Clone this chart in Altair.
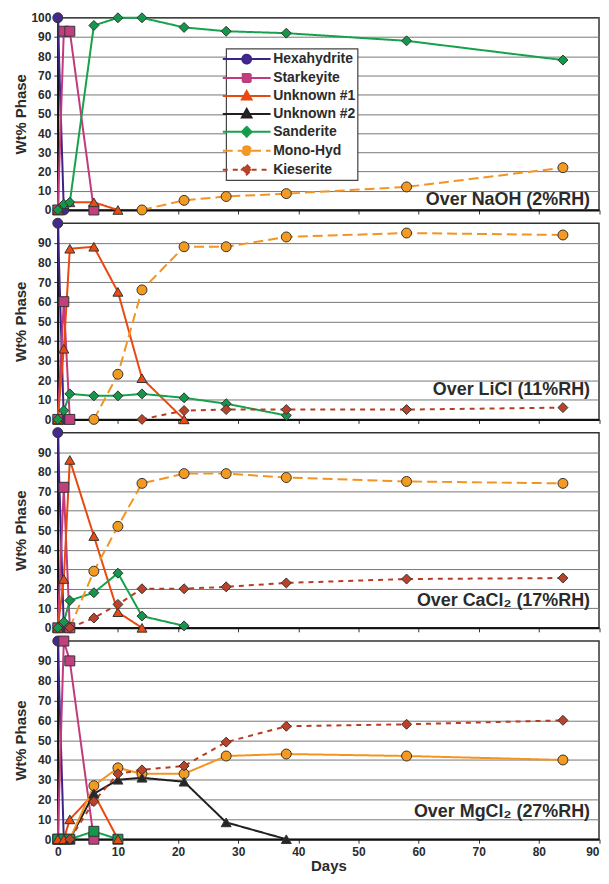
import altair as alt
import pandas as pd

DAYS = [0, 1, 2, 6, 10, 14, 21, 28, 38, 58, 84]
SERIES = ["Hexahydrite", "Starkeyite", "Unknown #1", "Unknown #2", "Sanderite", "Mono-Hyd", "Kieserite"]
PANEL_LABELS = ["Over NaOH (2%RH)", "Over LiCl (11%RH)", "Over CaCl\u2082 (17%RH)", "Over MgCl\u2082 (27%RH)"]

# values aligned with DAYS (None = no point)
NAOH_HEXAHYDRITE = [100, 0]
NAOH_STARKEYITE = [0, 93, 93, 0]
NAOH_UNKNOWN1 = [0, 3, 4, 4, 0]
NAOH_UNKNOWN2 = []
NAOH_SANDERITE = [0, 3, 4, 96, 100, 100, 95, 93, 92, 88, 78]
NAOH_MONOHYD = [None, None, None, None, None, 0, 5, 7, 8.5, 12, 22]
NAOH_KIESERITE = []

LICL_HEXAHYDRITE = [100, 0]
LICL_STARKEYITE = [0, 60, 0]
LICL_UNKNOWN1 = [0, 36, 87, 88, 65, 21, 0]
LICL_UNKNOWN2 = []
LICL_SANDERITE = [0, 4.5, 13, 12, 12, 13, 11, 8, 2]
LICL_MONOHYD = [None, None, None, 0, 23, 66, 88, 88, 93, 95, 94]
LICL_KIESERITE = [None, None, None, None, None, 0, 4.5, 5, 5, 5, 6]

CACL2_HEXAHYDRITE = [100, 0]
CACL2_STARKEYITE = [0, 72, 0]
CACL2_UNKNOWN1 = [0, 25, 86, 47, 8, 0]
CACL2_UNKNOWN2 = []
CACL2_SANDERITE = [0, 3, 14, 18, 28, 6, 1]
CACL2_MONOHYD = [None, None, 0, 29, 52, 74, 79, 79, 77, 75, 74]
CACL2_KIESERITE = [None, None, 0, 5, 12, 20, 20, 21, 23, 25, 25.5]

MGCL2_HEXAHYDRITE = [100, 0]
MGCL2_STARKEYITE = [0, 100, 90, 0]
MGCL2_UNKNOWN1 = [0, 0, 10, 23, 0]
MGCL2_UNKNOWN2 = [None, None, 0, 23, 30, 31, 29, 8.5, 0]
MGCL2_SANDERITE = [0, 0, 0, 4, 0]
MGCL2_MONOHYD = [None, None, 0, 27, 36, 33, 33, 42, 43, 42, 40]
MGCL2_KIESERITE = [None, None, 0, 19, 33, 35, 37, 49, 57, 58, 60]

PANELS = [
    [NAOH_HEXAHYDRITE, NAOH_STARKEYITE, NAOH_UNKNOWN1, NAOH_UNKNOWN2, NAOH_SANDERITE, NAOH_MONOHYD, NAOH_KIESERITE],
    [LICL_HEXAHYDRITE, LICL_STARKEYITE, LICL_UNKNOWN1, LICL_UNKNOWN2, LICL_SANDERITE, LICL_MONOHYD, LICL_KIESERITE],
    [CACL2_HEXAHYDRITE, CACL2_STARKEYITE, CACL2_UNKNOWN1, CACL2_UNKNOWN2, CACL2_SANDERITE, CACL2_MONOHYD, CACL2_KIESERITE],
    [MGCL2_HEXAHYDRITE, MGCL2_STARKEYITE, MGCL2_UNKNOWN1, MGCL2_UNKNOWN2, MGCL2_SANDERITE, MGCL2_MONOHYD, MGCL2_KIESERITE],
]

LINE_COLORS = ["#3d2388", "#c2397c", "#e8490f", "#231f20", "#15a24a", "#f39422", "#b83c23"]
MARKER_FILLS = ["#43288f", "#c23f7f", "#ea4b12", "#2a2626", "#13984b", "#f49a20", "#b8432a"]
DASHES = [[1, 0], [1, 0], [1, 0], [1, 0], [1, 0], [10, 5], [5, 5]]
SHAPES = ["circle", "square", "triangle-up", "triangle-up", "diamond", "circle", "diamond"]

# legend symbols: a line with the marker in its middle (path units, scaled by sqrt(symbolSize)/2)
P_CIRCLE = "M-3,0H-0.55M0.55,0H3M-0.55,0A0.55,0.55,0,1,0,0.55,0A0.55,0.55,0,1,0,-0.55,0Z"
P_SQUARE = "M-3,0H-0.5M0.5,0H3M-0.5,-0.5H0.5V0.5H-0.5Z"
P_TRIANGLE = "M-3,0H-0.34M0.34,0H3M0,-0.62L0.6,0.45H-0.6Z"
P_DIAMOND = "M-3,0H-0.62M0.62,0H3M0,-0.62L0.62,0L0,0.62L-0.62,0Z"
LEGEND_PATHS = [P_CIRCLE, P_SQUARE, P_TRIANGLE, P_TRIANGLE, P_DIAMOND, P_CIRCLE, P_DIAMOND]

MONO_SOLID = "Mono-Hyd (MgCl\u2082)"
SAND_SQUARE = "Sanderite (MgCl\u2082)"
ALL_KEYS = SERIES + [MONO_SOLID, SAND_SQUARE]

rows = []
for p, panel in enumerate(PANELS):
    for s, vals in enumerate(panel):
        name = SERIES[s]
        for j, v in enumerate(vals):
            if v is None:
                continue
            lk = MONO_SOLID if (p == 3 and name == "Mono-Hyd") else name
            mk = SAND_SQUARE if (p == 3 and name == "Sanderite") else name
            shp = "square" if mk == SAND_SQUARE else SHAPES[s]
            rows.append({"panel": p, "series": name, "order": s, "day": DAYS[j], "value": v,
                         "linekey": lk, "markerkey": mk, "shape": shp})
df = pd.DataFrame(rows)

W = 543.5
HEIGHTS = [193, 197, 196, 199]
TEXT_OFFSETS = [5, 25, 22, 22]
TXT = "#2b2b2b"

STROKE_SCALE = alt.Scale(domain=ALL_KEYS, range=LINE_COLORS + ["#f39422", "#15a24a"])
DASH_SCALE = alt.Scale(domain=ALL_KEYS, range=DASHES + [[1, 0], [1, 0]])
FILL_SCALE = alt.Scale(domain=ALL_KEYS, range=MARKER_FILLS + ["#f49a20", "#13984b"])
SHAPE_SCALE = alt.Scale(domain=ALL_KEYS, range=LEGEND_PATHS + [P_CIRCLE, P_SQUARE])

LEG = alt.Legend(
    title=None, orient="none", legendX=169, legendY=31, values=SERIES,
    symbolSize=256, symbolStrokeWidth=2, symbolOffset=10.2, labelOffset=17.6,
    labelFontSize=14, labelFontWeight="bold", labelColor=TXT, labelLimit=300,
    rowPadding=1.0, padding=1.5, strokeColor="#444", fillColor="white",
)


def make_panel(i):
    d = df[df.panel == i]
    h = HEIGHTS[i]
    bottom = i == 3
    xkw = dict(values=list(range(0, 91, 10)), labels=bottom, grid=False, domainColor="#111",
               domainWidth=2, tickColor="#333", tickSize=4, tickWidth=1, labelFontSize=12,
               labelFontWeight="bold", labelColor=TXT, labelPadding=3, titleFontSize=15,
               titleFontWeight="bold", titleColor=TXT, titlePadding=1,
               labelAlign=alt.condition("datum.value == 90", alt.value("right"), alt.value("center")))
    x = alt.X("day:Q", scale=alt.Scale(domain=[0, 90], nice=False),
              axis=alt.Axis(**xkw), title="Days" if bottom else None)
    yvals = list(range(0, 101, 10)) if i == 0 else list(range(0, 91, 10))
    y = alt.Y("value:Q", scale=alt.Scale(domain=[0, 100], nice=False),
              axis=alt.Axis(values=yvals, title="Wt% Phase", titleX=-37.5, titleY=h / 2,
                            titleAngle=270, titleAlign="center", titleBaseline="middle",
                            titleFontSize=15, titleFontWeight="bold", titleColor=TXT,
                            grid=True, gridColor="#777", gridWidth=1, domainColor="#111",
                            domainWidth=2, tickColor="#333", tickSize=4, labelFontSize=12,
                            labelFontWeight="bold", labelColor=TXT, labelPadding=3))
    lines = alt.Chart(d).mark_line(strokeWidth=2).encode(
        x=x, y=y,
        stroke=alt.Stroke("linekey:N", scale=STROKE_SCALE, legend=LEG),
        strokeDash=alt.StrokeDash("linekey:N", scale=DASH_SCALE, legend=LEG),
        order="day:Q",
    )
    layers = [lines]
    for shp in ["circle", "square", "triangle-up", "diamond"]:
        layers.append(
            alt.Chart(d).transform_filter(alt.datum.shape == shp).mark_point(
                shape=shp, filled=True, stroke="#333", strokeWidth=1, size=100, opacity=1
            ).encode(x=x, y=y, fill=alt.Fill("markerkey:N", scale=FILL_SCALE, legend=LEG), order="order:Q")
        )
    if i == 0:
        legend_only = alt.Chart(pd.DataFrame({"series": SERIES})).transform_filter("false").mark_point(
            filled=True, opacity=1, strokeWidth=2
        ).encode(
            stroke=alt.Stroke("series:N", scale=STROKE_SCALE, legend=LEG),
            strokeDash=alt.StrokeDash("series:N", scale=DASH_SCALE, legend=LEG),
            fill=alt.Fill("series:N", scale=FILL_SCALE, legend=LEG),
            shape=alt.Shape("series:N", scale=SHAPE_SCALE, legend=LEG),
        )
        layers.append(legend_only)
    label = alt.Chart(pd.DataFrame({"label": [PANEL_LABELS[i]]})).mark_text(
        align="right", baseline="alphabetic", fontSize=18, fontWeight="bold", color=TXT
    ).encode(text="label:N", x=alt.value(W - 9), y=alt.value(h - TEXT_OFFSETS[i]))
    layers.append(label)
    return alt.layer(*layers).properties(width=W, height=h)


chart = alt.vconcat(*[make_panel(i) for i in range(4)], spacing=13.3, bounds="flush").properties(
    padding={"left": 4, "top": 0, "right": 0, "bottom": 0}
).configure(font="Liberation Sans").configure_view(stroke="#333", strokeWidth=1.5).configure_legend(
    strokeWidth=1.2
)

chart.save("out.html", embed_options={"renderer": "svg", "actions": False})
